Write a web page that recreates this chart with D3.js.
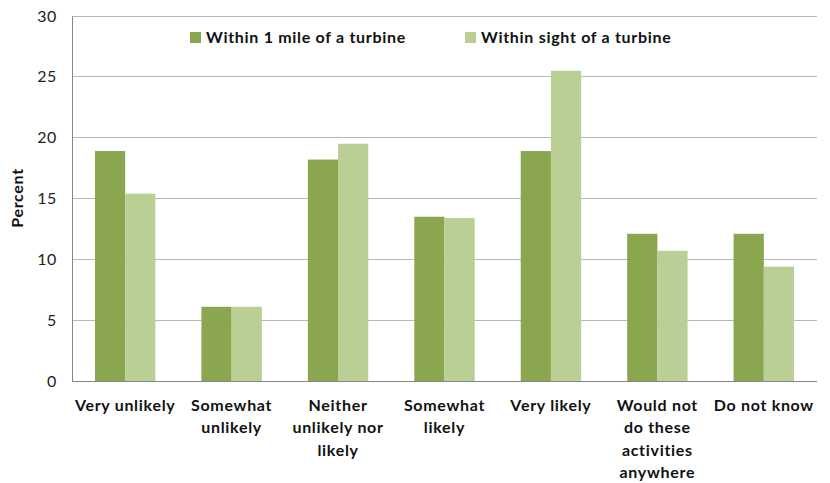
<!DOCTYPE html>
<html><head><meta charset="utf-8">
<script src="https://cdn.jsdelivr.net/npm/d3@7"></script>
<style>body{margin:0;background:#fff}svg{display:block}</style>
</head><body>
<svg id="c" width="830" height="483"></svg>
<script>
const categories = [
  ["Very unlikely"],
  ["Somewhat", "unlikely"],
  ["Neither", "unlikely nor", "likely"],
  ["Somewhat", "likely"],
  ["Very likely"],
  ["Would not", "do these", "activities", "anywhere"],
  ["Do not know"]
];
const seriesNames = ["Within 1 mile of a turbine", "Within sight of a turbine"];
const within1Mile = [18.9, 6.1, 18.2, 13.5, 18.9, 12.1, 12.1];
const withinSight = [15.4, 6.1, 19.5, 13.4, 25.5, 10.7, 9.4];
const yTicks = [0, 5, 10, 15, 20, 25, 30];
const colors = ["#8aa64f", "#bacf96"];

const svg = d3.select("#c");
const font = "Lato, 'Open Sans', sans-serif";
const m = {l: 72, r: 13, t: 16, b: 102};
const W = 830, H = 483;
const x0 = d3.scaleBand().domain(d3.range(categories.length)).range([m.l, W - m.r]).paddingInner(0.4325).paddingOuter(0.216);
const x1 = d3.scaleBand().domain([0, 1]).range([0, x0.bandwidth()]);
const y = d3.scaleLinear().domain([0, 30]).range([H - m.b, m.t]);

// gridlines
svg.append("g").selectAll("line").data(yTicks.filter(d => d > 0)).join("line")
  .attr("x1", m.l).attr("x2", W - m.r).attr("y1", d => y(d)).attr("y2", d => y(d))
  .attr("stroke", "#b8b8b8").attr("stroke-width", 1).attr("shape-rendering", "crispEdges");

// bars
const data = categories.map((c, i) => [within1Mile[i], withinSight[i]]);
const g = svg.append("g").selectAll("g").data(data).join("g")
  .attr("transform", (d, i) => `translate(${x0(i)},0)`);
g.selectAll("rect").data(d => d).join("rect")
  .attr("x", (d, j) => x1(j)).attr("width", x1.bandwidth())
  .attr("y", d => y(d)).attr("height", d => y(0) - y(d))
  .attr("fill", (d, j) => colors[j]);

// y axis
const ya = svg.append("g").attr("transform", `translate(${m.l},0)`)
  .call(d3.axisLeft(y).tickValues(yTicks).tickSize(0).tickPadding(15));
ya.select(".domain").attr("stroke", "#868686");
ya.selectAll("text").attr("font-family", font).attr("font-size", 16)
  .attr("letter-spacing", "0.6px").attr("fill", "#222");

// x axis line
svg.append("line").attr("x1", m.l).attr("x2", W - m.r).attr("y1", y(0)).attr("y2", y(0))
  .attr("stroke", "#868686").attr("shape-rendering", "crispEdges");

// x labels
const xl = svg.append("g").selectAll("text").data(categories).join("text")
  .attr("x", (d, i) => x0(i) + x0.bandwidth() / 2)
  .attr("y", 411)
  .attr("text-anchor", "middle").attr("font-family", font).attr("font-weight", "bold")
  .attr("font-size", 16).attr("letter-spacing", "0.7px").attr("fill", "#111");
xl.selectAll("tspan").data(d => d).join("tspan")
  .attr("x", function() { return this.parentNode.getAttribute("x"); })
  .attr("dy", (d, k) => k === 0 ? 0 : 22.4).text(d => d);

// y title
svg.append("text").attr("transform", `translate(23,198) rotate(-90)`)
  .attr("text-anchor", "middle").attr("font-family", font).attr("font-weight", "bold")
  .attr("font-size", 16).attr("letter-spacing", "0.7px").attr("fill", "#111").text("Percent");

// legend
const legX = [190, 465];
const lg = svg.append("g").selectAll("g").data(seriesNames).join("g")
  .attr("transform", (d, i) => `translate(${legX[i]},32)`);
lg.append("rect").attr("width", 11).attr("height", 11).attr("fill", (d, i) => colors[i]);
lg.append("text").attr("x", 16).attr("y", 11).attr("font-family", font).attr("font-weight", "bold")
  .attr("font-size", 16).attr("letter-spacing", "0.7px").attr("fill", "#111").text(d => d);
</script>
</body></html>
